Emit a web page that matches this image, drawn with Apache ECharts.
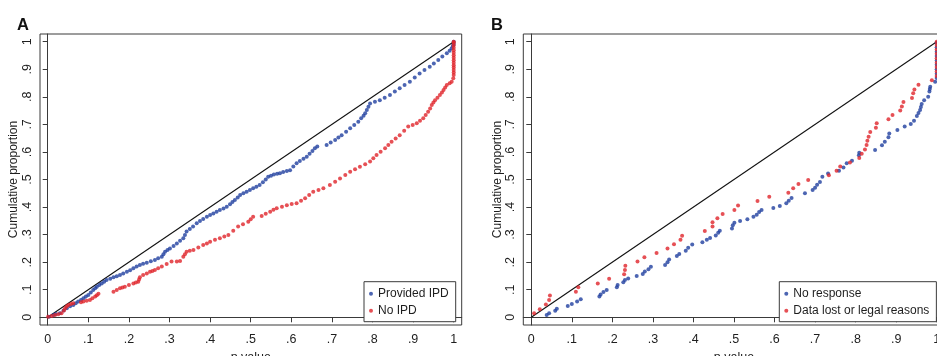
<!DOCTYPE html>
<html><head><meta charset="utf-8">
<script src="https://cdn.jsdelivr.net/npm/echarts@6/dist/echarts.min.js"></script>
<style>html,body{margin:0;padding:0;background:#fff}#c{width:937px;height:356px}</style>
</head><body><div id="c"></div><script>
// ---- tick values / labels ----
const tickValues = [0,0.1,0.2,0.3,0.4,0.5,0.6,0.7,0.8,0.9,1];
const tickLabels = ['0','.1','.2','.3','.4','.5','.6','.7','.8','.9','1'];
const panelLabels = ['A','B'];
const xTitle = 'p value';
const yTitle = 'Cumulative proportion';
const seriesNamesA = ['Provided IPD','No IPD'];
const seriesNamesB = ['No response','Data lost or legal reasons'];
const diagonal = [[0,0],[1,1]];

// ---- Panel A: [p value, cumulative proportion] ----
const providedIPD = [[0.003,0.002],[0.014,0.008],[0.020,0.012],[0.030,0.015],[0.039,0.025],[0.047,0.033],[0.055,0.040],[0.063,0.045],[0.069,0.051],[0.075,0.057],[0.082,0.063],[0.088,0.069],[0.094,0.075],[0.100,0.081],[0.106,0.090],[0.112,0.099],[0.117,0.105],[0.121,0.111],[0.127,0.117],[0.133,0.123],[0.139,0.129],[0.145,0.135],[0.154,0.140],[0.162,0.145],[0.170,0.149],[0.178,0.153],[0.186,0.159],[0.195,0.165],[0.203,0.171],[0.211,0.178],[0.219,0.184],[0.227,0.190],[0.235,0.194],[0.244,0.198],[0.254,0.203],[0.264,0.208],[0.272,0.214],[0.281,0.220],[0.285,0.229],[0.289,0.238],[0.295,0.244],[0.301,0.250],[0.310,0.259],[0.318,0.268],[0.326,0.278],[0.334,0.287],[0.338,0.299],[0.342,0.311],[0.350,0.320],[0.358,0.329],[0.367,0.341],[0.375,0.349],[0.383,0.357],[0.392,0.365],[0.400,0.371],[0.408,0.377],[0.416,0.383],[0.424,0.389],[0.433,0.395],[0.441,0.401],[0.449,0.410],[0.455,0.418],[0.461,0.426],[0.468,0.435],[0.474,0.444],[0.482,0.450],[0.490,0.456],[0.498,0.462],[0.506,0.468],[0.514,0.474],[0.522,0.480],[0.530,0.490],[0.537,0.500],[0.543,0.510],[0.550,0.514],[0.557,0.518],[0.565,0.521],[0.572,0.523],[0.580,0.527],[0.589,0.531],[0.597,0.534],[0.605,0.547],[0.613,0.559],[0.621,0.567],[0.630,0.575],[0.638,0.583],[0.645,0.593],[0.652,0.603],[0.658,0.613],[0.664,0.620],[0.687,0.625],[0.697,0.634],[0.708,0.643],[0.716,0.652],[0.724,0.661],[0.735,0.673],[0.745,0.686],[0.755,0.698],[0.765,0.710],[0.772,0.722],[0.778,0.731],[0.782,0.740],[0.786,0.752],[0.790,0.764],[0.794,0.776],[0.806,0.782],[0.818,0.788],[0.830,0.797],[0.843,0.807],[0.855,0.819],[0.867,0.831],[0.879,0.843],[0.892,0.855],[0.904,0.870],[0.916,0.885],[0.928,0.897],[0.941,0.909],[0.951,0.921],[0.962,0.934],[0.972,0.946],[0.983,0.958],[0.990,0.967],[0.995,0.976],[0.998,0.985],[1.0,0.992],[1.0,1.0]];
const noIPD = [[0.001,0.002],[0.010,0.005],[0.018,0.008],[0.026,0.011],[0.034,0.015],[0.040,0.025],[0.043,0.033],[0.047,0.040],[0.051,0.045],[0.057,0.048],[0.063,0.051],[0.082,0.055],[0.088,0.057],[0.096,0.060],[0.104,0.063],[0.110,0.069],[0.117,0.075],[0.121,0.080],[0.125,0.085],[0.162,0.093],[0.170,0.099],[0.178,0.105],[0.184,0.108],[0.190,0.111],[0.200,0.117],[0.211,0.123],[0.217,0.126],[0.223,0.129],[0.225,0.137],[0.227,0.145],[0.235,0.153],[0.244,0.159],[0.252,0.165],[0.258,0.168],[0.264,0.172],[0.272,0.178],[0.281,0.184],[0.293,0.193],[0.305,0.202],[0.318,0.202],[0.326,0.204],[0.334,0.220],[0.338,0.229],[0.342,0.238],[0.350,0.241],[0.359,0.244],[0.371,0.253],[0.383,0.262],[0.392,0.268],[0.400,0.274],[0.412,0.281],[0.424,0.287],[0.435,0.293],[0.445,0.299],[0.457,0.314],[0.469,0.329],[0.481,0.338],[0.494,0.347],[0.500,0.356],[0.506,0.365],[0.527,0.368],[0.537,0.376],[0.548,0.383],[0.556,0.390],[0.564,0.396],[0.577,0.401],[0.589,0.407],[0.601,0.411],[0.613,0.414],[0.624,0.423],[0.634,0.432],[0.644,0.444],[0.654,0.456],[0.667,0.462],[0.679,0.468],[0.695,0.480],[0.708,0.492],[0.720,0.504],[0.733,0.516],[0.745,0.528],[0.757,0.537],[0.769,0.546],[0.782,0.555],[0.794,0.565],[0.802,0.577],[0.810,0.589],[0.820,0.601],[0.831,0.613],[0.839,0.625],[0.847,0.637],[0.857,0.649],[0.867,0.661],[0.878,0.677],[0.888,0.692],[0.899,0.698],[0.909,0.704],[0.917,0.713],[0.925,0.722],[0.931,0.734],[0.937,0.746],[0.942,0.758],[0.946,0.770],[0.950,0.779],[0.954,0.788],[0.960,0.797],[0.966,0.807],[0.971,0.816],[0.975,0.825],[0.979,0.834],[0.983,0.843],[0.990,0.849],[0.995,0.855],[0.999,0.867],[1,0.879],[1,0.888],[1,0.897],[1,0.906],[1,0.915],[1,0.924],[1,0.933],[1,0.942],[1,0.951],[1,0.960],[1,0.969],[1,0.978],[1,0.987],[1,0.996],[1,1.0]];

// ---- Panel B ----
const noResponse = [[0.038,0.008],[0.044,0.015],[0.059,0.024],[0.063,0.031],[0.090,0.041],[0.100,0.048],[0.113,0.057],[0.122,0.065],[0.168,0.075],[0.171,0.083],[0.178,0.092],[0.186,0.099],[0.211,0.109],[0.213,0.117],[0.227,0.127],[0.231,0.135],[0.239,0.141],[0.260,0.150],[0.275,0.157],[0.280,0.166],[0.289,0.174],[0.295,0.183],[0.330,0.190],[0.336,0.200],[0.340,0.210],[0.359,0.222],[0.365,0.230],[0.381,0.241],[0.387,0.252],[0.397,0.264],[0.422,0.272],[0.433,0.281],[0.441,0.288],[0.455,0.297],[0.461,0.307],[0.465,0.314],[0.495,0.322],[0.497,0.334],[0.501,0.343],[0.515,0.349],[0.533,0.356],[0.548,0.365],[0.556,0.372],[0.562,0.382],[0.568,0.389],[0.597,0.397],[0.613,0.404],[0.629,0.414],[0.635,0.423],[0.642,0.433],[0.675,0.450],[0.694,0.462],[0.700,0.470],[0.705,0.481],[0.712,0.491],[0.718,0.510],[0.732,0.522],[0.759,0.532],[0.770,0.544],[0.778,0.559],[0.791,0.568],[0.808,0.588],[0.809,0.597],[0.848,0.607],[0.865,0.624],[0.872,0.637],[0.881,0.653],[0.883,0.667],[0.903,0.680],[0.921,0.692],[0.936,0.701],[0.944,0.713],[0.951,0.730],[0.955,0.741],[0.959,0.752],[0.961,0.763],[0.963,0.774],[0.969,0.788],[0.979,0.800],[0.982,0.819],[0.983,0.828],[0.984,0.837],[0.996,0.855],[1,0.868],[1,0.884],[1,0.900],[1,0.916],[1,0.932],[1,0.948],[1,0.964],[1,0.980],[1,0.996]];
const dataLost = [[0.007,0.015],[0.021,0.029],[0.036,0.046],[0.044,0.063],[0.046,0.079],[0.110,0.093],[0.116,0.109],[0.164,0.123],[0.192,0.140],[0.229,0.156],[0.231,0.172],[0.232,0.187],[0.262,0.202],[0.279,0.218],[0.309,0.233],[0.336,0.250],[0.352,0.265],[0.368,0.281],[0.372,0.296],[0.428,0.313],[0.447,0.329],[0.447,0.345],[0.459,0.359],[0.472,0.375],[0.501,0.389],[0.510,0.406],[0.558,0.422],[0.587,0.437],[0.634,0.452],[0.646,0.468],[0.659,0.484],[0.683,0.498],[0.734,0.515],[0.753,0.532],[0.762,0.547],[0.786,0.562],[0.809,0.578],[0.815,0.593],[0.823,0.609],[0.827,0.625],[0.829,0.641],[0.832,0.655],[0.836,0.672],[0.850,0.688],[0.852,0.704],[0.881,0.719],[0.891,0.734],[0.910,0.750],[0.914,0.765],[0.918,0.781],[0.939,0.796],[0.942,0.813],[0.945,0.827],[0.955,0.844],[0.988,0.860],[1,0.876],[1,0.892],[1,0.908],[1,0.924],[1,0.940],[1,0.956],[1,0.972],[1,0.988],[1,1.0]];

const BLUE = '#1f3f9f', RED = '#e0242a';
const FONT = '"Liberation Sans", Arial, sans-serif';
const TXT = '#1e1e1e', AX = '#3a3a3a';

function fmt(v){ const i = tickValues.findIndex(t => Math.abs(t - v) < 1e-9); return i >= 0 ? tickLabels[i] : ''; }

function xAx(g, min, max){ return {
  type:'value', gridIndex:g, min:min, max:max,
  name:xTitle, nameLocation:'middle', nameGap:21,
  nameTextStyle:{fontSize:12.5, color:TXT, fontFamily:FONT},
  axisLine:{show:true, lineStyle:{color:AX, width:1}},
  axisTick:{show:true, customValues:tickValues, length:5, lineStyle:{color:AX}},
  axisLabel:{customValues:tickValues, formatter:fmt, fontSize:12.5, color:TXT, fontFamily:FONT, margin:8},
  splitLine:{show:false}
};}
function yAx(g){ return {
  type:'value', gridIndex:g, min:-0.028, max:1.028,
  name:yTitle, nameLocation:'middle', nameGap:20, nameRotate:90,
  nameTextStyle:{fontSize:12, color:TXT, fontFamily:FONT},
  axisLine:{show:true, lineStyle:{color:AX, width:1}},
  axisTick:{show:true, customValues:tickValues, length:5, lineStyle:{color:AX}},
  axisLabel:{customValues:tickValues, formatter:fmt, rotate:90, fontSize:12.5, color:TXT, fontFamily:FONT, margin:6},
  splitLine:{show:false}
};}
function sc(name, data, color, xi){ return {
  name:name, type:'scatter', xAxisIndex:xi, yAxisIndex:xi, data:data,
  symbol:'circle', symbolSize:4, itemStyle:{color:color}, z:3, silent:true
};}
function legend(left, names){ return {
  left:left, top:281.7, orient:'vertical', data:names, icon:'circle',
  itemWidth:4, itemHeight:4, itemGap:1, padding:[4,7,3,5],
  borderColor:AX, borderWidth:1, borderRadius:0, backgroundColor:'#fff',
  selectedMode:false,
  textStyle:{fontSize:12, color:TXT, fontFamily:FONT, lineHeight:16}
};}

const chart = echarts.init(document.getElementById('c'), null, {renderer:'canvas'});
chart.setOption({
  animation:false,
  backgroundColor:'#fff',
  title:[
    {text:panelLabels[0], left:12, top:12, textStyle:{fontSize:16.5, fontWeight:'bold', color:'#111', fontFamily:FONT}},
    {text:panelLabels[1], left:486, top:12, textStyle:{fontSize:16.5, fontWeight:'bold', color:'#111', fontFamily:FONT}}
  ],
  grid:[
    {left:40, top:34, width:421.7, height:291, containLabel:false, outerBoundsMode:'none', show:true, borderColor:AX, borderWidth:1, backgroundColor:'#fff'},
    {left:523.3, top:34, width:421.4, height:291, containLabel:false, outerBoundsMode:'none', show:true, borderColor:AX, borderWidth:1, backgroundColor:'#fff'}
  ],
  xAxis:[xAx(0,-0.019,1.0197), xAx(1,-0.0197,1.0197)],
  yAxis:[yAx(0), yAx(1)],
  legend:[legend(364, seriesNamesA), legend(779.3, seriesNamesB)],
  series:[
    {type:'line', xAxisIndex:0, yAxisIndex:0, data:diagonal, symbol:'none', lineStyle:{color:'#111', width:1.1}, z:2, silent:true},
    sc(seriesNamesA[0], providedIPD, BLUE, 0),
    sc(seriesNamesA[1], noIPD, RED, 0),
    {type:'line', xAxisIndex:1, yAxisIndex:1, data:diagonal, symbol:'none', lineStyle:{color:'#111', width:1.1}, z:2, silent:true},
    sc(seriesNamesB[0], noResponse, BLUE, 1),
    sc(seriesNamesB[1], dataLost, RED, 1)
  ]
});
</script></body></html>
